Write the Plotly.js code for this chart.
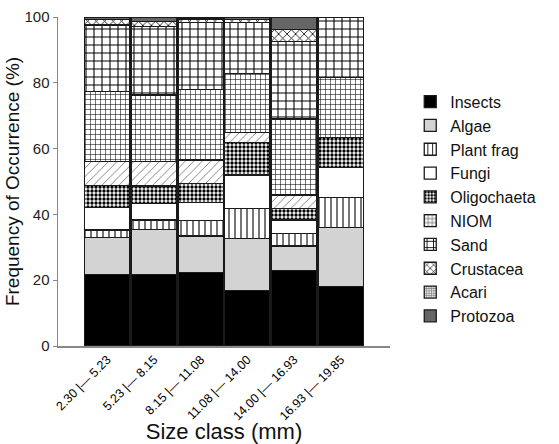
<!DOCTYPE html>
<html>
<head>
<meta charset="utf-8">
<script src="https://cdn.plot.ly/plotly-3.0.1.min.js"></script>
<style>html,body{margin:0;padding:0;background:#fff;}#chart{width:559px;height:444px;}</style>
</head>
<body>
<div id="chart"></div>
<script>
var sizeClasses = ["2.30 |— 5.23", "5.23 |— 8.15", "8.15 |— 11.08", "11.08 |— 14.00", "14.00 |— 16.93", "16.93 |— 19.85"];

var insects     = [21.8, 21.8, 22.3, 16.8, 22.9, 18.0];
var algae       = [11.2, 13.7, 11.1, 15.9, 7.5, 18.1];
var plantFrag   = [2.3, 2.8, 4.7, 9.1, 3.8, 9.1];
var fungi       = [6.7, 5.1, 5.6, 10.2, 4.1, 9.1];
var oligochaeta = [6.8, 5.2, 5.8, 9.9, 3.5, 9.0];
var other       = [7.2, 7.4, 7.0, 2.9, 4.1, 0];
var niom        = [21.3, 20.3, 21.5, 18.0, 23.1, 18.4];
var sand        = [20.3, 20.8, 20.4, 15.5, 23.5, 18.3];
var crustacea   = [1.6, 1.6, 1.0, 0.9, 3.7, 0];
var acari       = [0, 0, 0, 0, 0, 0];
var protozoa    = [0.8, 1.3, 0.6, 0.8, 3.8, 0];

var lineStyle = {color: "#1a1a1a", width: 1.3};

function pat(shape, fg, size, solidity) {
  return {shape: shape, fgcolor: fg, bgcolor: "#ffffff", size: size, solidity: solidity, fillmode: "replace"};
}

var series = [
  {name: "Insects", y: insects, color: "#000000"},
  {name: "Algae", y: algae, color: "#d3d3d3"},
  {name: "Plant frag", y: plantFrag, color: "#ffffff", pattern: pat("|", "#000000", 6, 0.18)},
  {name: "Fungi", y: fungi, color: "#ffffff"},
  {name: "Oligochaeta", y: oligochaeta, color: "#ffffff", pattern: pat(".", "#000000", 4, 0.55)},
  {name: "Other", y: other, color: "#ffffff", pattern: pat("/", "#555555", 6, 0.12), showlegend: false},
  {name: "NIOM", y: niom, color: "#ffffff", pattern: pat("+", "#000000", 5, 0.2)},
  {name: "Sand", y: sand, color: "#ffffff", pattern: pat("+", "#000000", 8, 0.25)},
  {name: "Crustacea", y: crustacea, color: "#ffffff", pattern: pat("x", "#000000", 6, 0.25)},
  {name: "Acari", y: acari, color: "#ffffff", pattern: pat(".", "#777777", 3, 0.5)},
  {name: "Protozoa", y: protozoa, color: "#666666"}
];

var traces = series.map(function (s) {
  var m = {color: s.color, line: lineStyle};
  if (s.pattern) m.pattern = s.pattern;
  return {
    type: "bar",
    name: s.name,
    x: sizeClasses,
    y: s.y,
    marker: m,
    showlegend: s.showlegend === undefined ? true : s.showlegend,
    hoverinfo: "name+y"
  };
});

var layout = {
  width: 559,
  height: 444,
  barmode: "stack",
  bargap: 0.025,
  paper_bgcolor: "#ffffff",
  plot_bgcolor: "#ffffff",
  margin: {l: 58, r: 169, t: 17, b: 98},
  font: {family: "Liberation Sans, Arial, sans-serif", color: "#111111"},
  xaxis: {
    type: "category",
    range: [-1.055, 6.055],
    showline: true,
    linecolor: "#888888",
    linewidth: 1.5,
    ticks: "",
    tickangle: -45,
    tickfont: {size: 12.5, color: "#000000"},
    showgrid: false,
    zeroline: false,
    title: {text: "Size class (mm)", font: {size: 22, color: "#111111"}, standoff: 1}
  },
  yaxis: {
    range: [0, 100],
    tickvals: [0, 20, 40, 60, 80, 100],
    showline: true,
    linecolor: "#888888",
    linewidth: 1.5,
    ticks: "outside",
    ticklen: 4,
    tickcolor: "#888888",
    tickfont: {size: 15, color: "#222222"},
    showgrid: false,
    zeroline: false,
    title: {text: "Frequency of Occurrence (%)", font: {size: 19, color: "#111111"}, standoff: 0}
  },
  legend: {
    x: 1.061,
    y: 0.794,
    xanchor: "left",
    yanchor: "top",
    traceorder: "normal",
    font: {size: 16, color: "#111111"},
    bgcolor: "rgba(0,0,0,0)",
    itemwidth: 30
  },
  showlegend: true
};

Plotly.newPlot("chart", traces, layout, {displayModeBar: false, staticPlot: true});
</script>
</body>
</html>
